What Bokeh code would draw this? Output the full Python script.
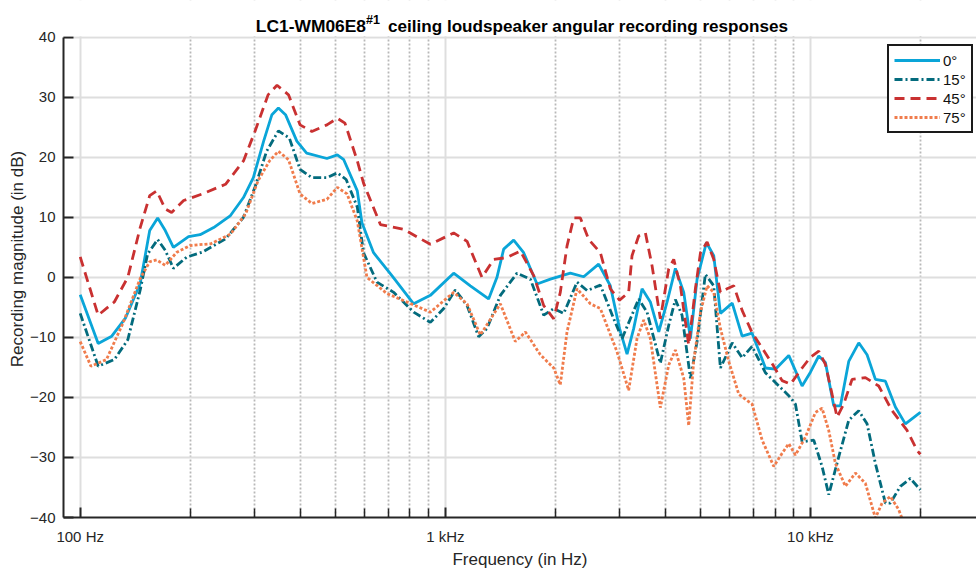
from bokeh.plotting import figure
from bokeh.models import Range1d, FixedTicker, Label, Legend, LegendItem, BoxAnnotation
from bokeh.embed import file_html
from bokeh.resources import INLINE

# ---- texts ----
title_main = "LC1-WM06E8"
title_sup = "#1"
title_rest = "ceiling loudspeaker angular recording responses"
x_label = "Frequency (in Hz)"
y_label = "Recording magnitude (in dB)"

# ---- ticks ----
x_ticks = [100, 1000, 10000]
x_tick_labels = ["100 Hz", "1 kHz", "10 kHz"]
x_minor_ticks = [200, 300, 400, 500, 600, 700, 800, 900,
                 2000, 3000, 4000, 5000, 6000, 7000, 8000, 9000, 20000]
y_ticks = [-40, -30, -20, -10, 0, 10, 20, 30, 40]

series_names = ["0°", "15°", "45°", "75°"]

# ---- data (frequency in Hz, magnitude in dB) ----
freq_0 = [100, 112, 122, 133, 146, 155, 163, 171, 180, 198, 213, 232, 258, 280, 298,
          318, 335, 349, 365, 392, 417, 474, 506, 527, 574, 591, 636, 714, 819, 910,
          1054, 1171, 1314, 1385, 1445, 1539, 1639, 1783, 1940, 2200, 2393, 2630, 2831, 3000, 3146,
          3281, 3458, 3644, 3842, 4050, 4267, 4498, 4691, 4893, 5188, 5435, 5668, 6107, 6501, 6921,
          7531, 8021, 8723, 9488, 10000, 10539, 10992, 11583, 12082, 12732, 13563, 14293, 15064, 16046, 17089,
          18197, 20000]
db_0 = [-2.9, -11.0, -9.8, -6.8, -1.0, 7.8, 9.9, 7.8, 5.0, 6.8, 7.1, 8.3, 10.3, 13.3, 16.6,
        22.7, 27.1, 28.2, 27.1, 22.7, 20.7, 19.8, 20.4, 19.6, 14.4, 9.1, 4.1, 0.3, -4.4, -3.0,
        0.7, -1.4, -3.6, 0.0, 4.7, 6.2, 4.1, -1.1, -0.3, 0.7, 0.1, 2.2, -1.4, -8.5, -12.8,
        -8.5, -1.9, -4.1, -9.1, -4.1, 1.5, -2.5, -10.2, -0.3, 5.8, 3.6, -6.0, -4.3, -9.8, -9.3,
        -15.1, -15.3, -13.0, -18.1, -15.8, -13.1, -14.2, -21.4, -21.4, -14.0, -10.9, -12.9, -17.0, -17.3, -21.6,
        -24.4, -22.5]

freq_15 = [100, 112, 124, 135, 146, 153, 163, 171, 180, 196, 216, 250, 280, 301, 324,
           349, 374, 400, 431, 474, 506, 535, 574, 597, 650, 722, 819, 910, 990, 1065,
           1147, 1234, 1301, 1415, 1572, 1710, 1860, 1981, 2110, 2295, 2445, 2659, 2892, 3048, 3213,
           3385, 3569, 3881, 4091, 4267, 4450, 4691, 4893, 5155, 5435, 5668, 6107, 6501, 6921, 7531,
           8106, 8723, 9097, 9488, 10212, 10763, 11224, 11955, 12732, 13563, 14293, 15064, 16046, 16558, 17635,
           18780, 20000]
db_15 = [-6.0, -14.8, -13.7, -10.4, -2.1, 3.9, 6.3, 4.5, 1.5, 3.4, 4.2, 6.4, 10.0, 15.0, 21.0,
         24.4, 23.2, 18.0, 16.6, 16.6, 17.4, 16.3, 11.7, 4.1, -0.8, -2.5, -5.8, -7.5, -5.2, -2.1,
         -4.7, -9.9, -8.5, -3.0, 0.7, -0.3, -6.3, -5.2, -6.0, -0.8, -2.2, -1.3, -6.9, -10.2, -6.9,
         -3.6, -5.8, -14.3, -8.0, -3.7, -6.3, -16.8, -10.7, 0.5, -1.4, -15.1, -10.9, -13.4, -11.5, -15.9,
         -17.8, -19.7, -21.1, -27.4, -27.1, -31.5, -36.2, -29.9, -23.8, -22.2, -24.4, -31.0, -37.6, -37.6, -34.8,
         -33.5, -35.4]

freq_45 = [100, 112, 124, 135, 146, 155, 162, 171, 178, 192, 216, 250, 280, 301, 327,
           346, 372, 400, 431, 474, 506, 531, 574, 597, 664, 769, 910, 1054, 1147, 1260,
           1357, 1476, 1605, 1746, 1860, 1981, 2065, 2154, 2247, 2344, 2470, 2659, 2831, 3000, 3178,
           3246, 3385, 3532, 3684, 3881, 4091, 4223, 4404, 4641, 4841, 4999, 5212, 5435, 5668, 5911,
           6166, 6500, 6922, 7449, 7934, 8364, 8818, 9488, 10000, 10539, 10992, 11464, 11831, 12337, 13003,
           14142, 15382, 16730, 18394, 19588, 20000]
db_45 = [3.4, -6.3, -4.1, 0.0, 8.3, 13.6, 14.4, 11.4, 10.8, 12.8, 13.9, 15.5, 19.4, 24.3, 30.4,
         32.0, 30.4, 25.4, 24.3, 25.4, 26.5, 25.7, 19.4, 15.7, 8.8, 8.0, 5.5, 7.4, 6.0, 0.0,
         3.0, 3.3, 4.4, 0.3, -4.7, -6.9, -2.5, 5.2, 9.9, 9.9, 6.3, 4.1, -1.9, -3.8, -2.5,
         3.6, 6.9, 7.4, 1.9, -6.9, 1.4, 3.0, -1.4, -11.3, -1.9, 4.1, 5.9, 3.0, -2.5, -1.9,
         -1.4, -5.5, -9.2, -12.2, -14.8, -17.2, -17.8, -15.1, -13.3, -12.3, -14.5, -19.5, -23.3, -21.1, -17.0,
         -16.7, -18.1, -22.2, -25.5, -28.8, -29.5]

freq_75 = [100, 107, 118, 131, 146, 155, 162, 171, 184, 200, 228, 258, 284, 307, 330,
           349, 372, 400, 431, 474, 506, 538, 574, 610, 692, 785, 910, 1054, 1147, 1247,
           1415, 1555, 1657, 1821, 1981, 2065, 2154, 2295, 2496, 2659, 2953, 3178, 3350, 3494, 3644,
           3881, 4091, 4267, 4498, 4641, 4789, 4999, 5212, 5435, 5668, 5975, 6366, 6921, 7373, 7937,
           8364, 8723, 9097, 9690, 10320, 10763, 11224, 11706, 12467, 13280, 14142, 15064, 15710, 16558, 17449,
           18006, 18700]
db_75 = [-10.7, -14.8, -13.7, -7.6, -0.2, 2.6, 2.9, 2.0, 4.2, 5.3, 5.6, 7.2, 10.6, 16.1, 19.4,
         21.0, 19.6, 13.9, 12.3, 13.0, 15.0, 13.9, 9.4, 0.0, -2.7, -4.1, -5.8, -2.5, -4.4, -9.6,
         -4.4, -10.7, -9.1, -12.9, -15.1, -17.9, -9.1, -1.9, -4.4, -5.2, -12.4, -18.8, -10.2, -7.1, -10.2,
         -21.7, -14.6, -12.1, -16.8, -24.7, -14.0, -5.8, -1.4, -2.5, -8.5, -14.0, -19.5, -21.1, -27.1, -31.5,
         -29.3, -27.7, -29.6, -26.6, -22.5, -21.8, -25.5, -31.0, -34.8, -32.6, -34.3, -40.1, -37.6, -36.5, -38.7,
         -40.9, -43.0]

# ---- styles ----
colors = ["#0AA5D8", "#036B7D", "#C93131", "#F07C4C"]
dashes = ["solid", "8 3 2 3", "10 6", "3 2"]
FONT = "Liberation Sans"
TXT = "#262626"

Y_MIN, Y_MAX = -40, 40
Y_TOP = Y_MAX + 37 / 6.05   # frame extends above the axes box to hold the title

p = figure(width=976, height=571, x_axis_type="log",
           x_range=Range1d(90, 28500), y_range=Range1d(Y_MIN, Y_TOP),
           output_backend="svg", toolbar_location=None, title=None,
           min_border_left=63, min_border_right=0, min_border_top=0, min_border_bottom=50)
p.outline_line_color = None
p.background_fill_color = "white"
p.border_fill_color = "white"

# x axis
xa = p.xaxis[0]
xa.ticker = FixedTicker(ticks=x_ticks, minor_ticks=x_minor_ticks)
xa.major_label_overrides = dict(zip(x_ticks, x_tick_labels))
xa.axis_label = x_label
xa.axis_label_text_font = FONT
xa.axis_label_text_font_size = "17px"
xa.axis_label_text_font_style = "normal"
xa.axis_label_text_color = TXT
xa.axis_label_standoff = 2
xa.major_label_text_font = FONT
xa.major_label_text_font_size = "15px"
xa.major_label_text_color = TXT
xa.major_label_standoff = 10
xa.axis_line_color = TXT
xa.axis_line_width = 2
xa.major_tick_in = 10
xa.major_tick_out = 0
xa.major_tick_line_color = TXT
xa.major_tick_line_width = 2
xa.minor_tick_in = 9
xa.minor_tick_out = 0
xa.minor_tick_line_color = TXT
xa.minor_tick_line_width = 1.5

# y axis
ya = p.yaxis[0]
ya.ticker = FixedTicker(ticks=y_ticks)
ya.bounds = (Y_MIN, Y_MAX)
ya.axis_label = y_label
ya.axis_label_text_font = FONT
ya.axis_label_text_font_size = "17px"
ya.axis_label_text_font_style = "normal"
ya.axis_label_text_color = TXT
ya.axis_label_standoff = 0
ya.major_label_text_font = FONT
ya.major_label_text_font_size = "15px"
ya.major_label_text_color = TXT
ya.major_label_standoff = 8
ya.axis_line_color = TXT
ya.axis_line_width = 2
ya.major_tick_in = 10
ya.major_tick_out = 0
ya.major_tick_line_color = TXT
ya.major_tick_line_width = 2
ya.minor_tick_line_color = None

# grids
p.ygrid.grid_line_color = "#DEDEDE"
p.ygrid.grid_line_width = 2
p.xgrid.grid_line_color = "#DEDEDE"
p.xgrid.grid_line_width = 2
p.xgrid.minor_grid_line_color = "#B8B8B8"
p.xgrid.minor_grid_line_width = 1.8
p.xgrid.minor_grid_line_dash = "2 2"

# lines
all_freq = [freq_0, freq_15, freq_45, freq_75]
all_db = [db_0, db_15, db_45, db_75]
items = []
for name, f, d, c, dsh in zip(series_names, all_freq, all_db, colors, dashes):
    r = p.line(f, d, line_color=c, line_width=2.8, line_dash=dsh)
    items.append(LegendItem(label=name, renderers=[r]))

# white band above the axes box (title area)
p.add_layout(BoxAnnotation(bottom=Y_MAX + 0.17, fill_color="white", fill_alpha=1.0,
                           line_color=None))

legend = Legend(items=items, location=(824, 384),
                border_line_color="#1A1A1A", border_line_width=2.5, border_line_alpha=1.0,
                background_fill_color="white", background_fill_alpha=1.0,
                label_text_font=FONT, label_text_font_size="15px", label_text_color="#111111",
                glyph_width=46, glyph_height=18, label_height=18, label_standoff=3,
                padding=5, spacing=1)
p.add_layout(legend)

# title (with superscript)
p.add_layout(Label(x=302.5, y=491.5, x_units="screen", y_units="screen", text=title_main,
                   text_font=FONT, text_font_style="bold", text_font_size="17.4px",
                   text_color="black", text_align="right", text_baseline="alphabetic"))
p.add_layout(Label(x=302.5, y=497.5, x_units="screen", y_units="screen", text=title_sup,
                   text_font=FONT, text_font_style="bold", text_font_size="12.5px",
                   text_color="black", text_align="left", text_baseline="alphabetic"))
p.add_layout(Label(x=324.5, y=491.5, x_units="screen", y_units="screen", text=title_rest,
                   text_font=FONT, text_font_style="bold", text_font_size="17.1px",
                   text_color="black", text_align="left", text_baseline="alphabetic"))

open("out.html", "w").write(file_html(p, INLINE))
